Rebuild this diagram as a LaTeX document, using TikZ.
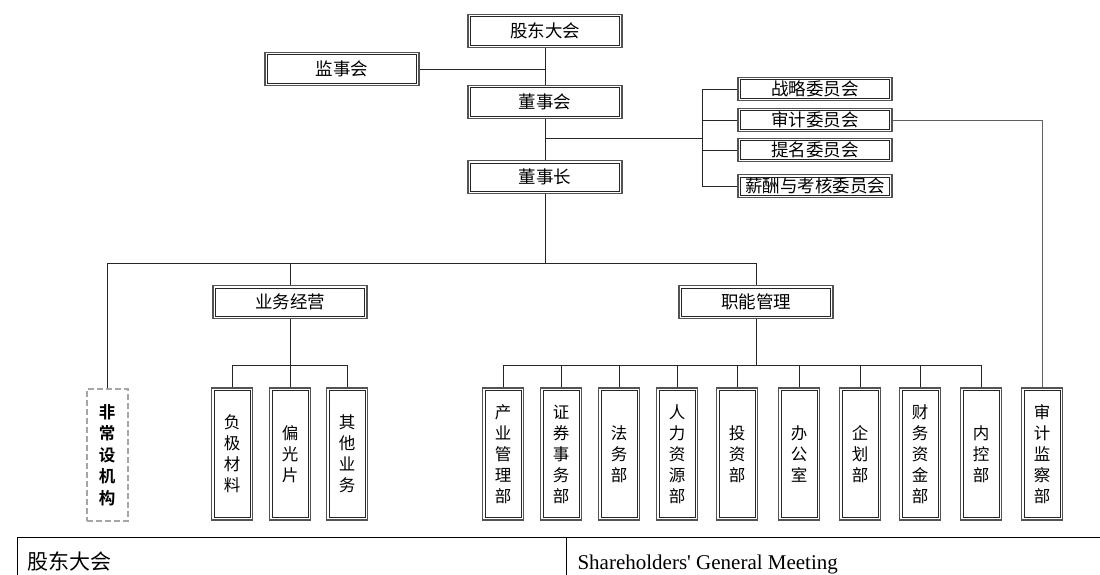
\documentclass[tikz,border=0pt]{standalone}
\usepackage{fontspec}
\setmainfont{Noto Sans CJK SC}[BoldFont={Noto Sans CJK SC Bold}]
\newfontfamily\enfont{Liberation Serif}
\usetikzlibrary{positioning}

\tikzset{
  unit/.style={draw=gray!65!black, line width=1.5pt, inner sep=0pt, fill=white,
               font=\fontsize{17.5}{21}\selectfont,
               path picture={\draw[black!85, line width=0.6pt]
                 ([shift={(2.3pt,-2.3pt)}]path picture bounding box.north west) rectangle
                 ([shift={(-2.3pt,2.3pt)}]path picture bounding box.south east);}},
  hunit/.style={unit, minimum width=154pt, minimum height=33pt},
  cunit/.style={unit, minimum width=154pt, minimum height=23pt},
  vunit/.style={unit, minimum width=41pt, minimum height=132pt, align=center,
               font=\fontsize{16.5}{21}\selectfont},
  tempunit/.style={draw=gray!70, line width=2pt, dash pattern=on 6pt off 3pt,
               inner sep=0pt, minimum width=41pt, minimum height=132pt, align=center,
               font=\fontsize{16.5}{21.5}\selectfont\bfseries},
  link/.style={draw=black!85, line width=0.7pt}
}

\begin{document}
\begin{tikzpicture}[x=1pt, y=-1pt]
    \useasboundingbox (0,0) rectangle (1100,575);

    % connectors first, boxes drawn over them
    \coordinate (k1) at (545,138);
    \coordinate (k2) at (702,138);
    \coordinate (b1) at (545,263);
    \coordinate (b2) at (290,365);
    \coordinate (b3) at (756,365);

    % top levels
    \node[hunit] (gd) at (545,31) {股东大会};
    \node[hunit] (js) at (342,69) {监事会};
    \node[hunit] (ds) at (545,102) {董事会};
    \node[hunit] (dz) at (545,177) {董事长};

    % committees
    \node[cunit] (zl) at (815,89) {战略委员会};
    \node[cunit] (sj) at (815,120) {审计委员会};
    \node[cunit] (tm) at (815,150) {提名委员会};
    \node[cunit] (xc) at (815,186) {薪酬与考核委员会};

    % second level
    \node[tempunit] (fc) at (107,455) {非\\常\\设\\机\\构};
    \node[hunit] (yw) at (290,302) {业务经营};
    \node[hunit] (zn) at (756,302) {职能管理};

    % business
    \node[vunit] (fj) at (232,454) {负\\极\\材\\料};
    \node[vunit] (pg) at (290,454) {偏\\光\\片};
    \node[vunit] (qt) at (347,454) {其\\他\\业\\务};

    % functions
    \node[vunit] (cy) at (503,454) {产\\业\\管\\理\\部};
    \node[vunit] (zq) at (561,454) {证\\券\\事\\务\\部};
    \node[vunit] (fw) at (619,454) {法\\务\\部};
    \node[vunit] (rl) at (677,454) {人\\力\\资\\源\\部};
    \node[vunit] (tz) at (737,454) {投\\资\\部};
    \node[vunit] (bg) at (799,454) {办\\公\\室};
    \node[vunit] (qh) at (860,454) {企\\划\\部};
    \node[vunit] (cw) at (920,454) {财\\务\\资\\金\\部};
    \node[vunit] (nk) at (981,454) {内\\控\\部};
    \node[vunit] (sc) at (1042,454) {审\\计\\监\\察\\部};

    \draw[link] (gd) -- (ds);
    \draw[link] (js.east) -- (js.east -| gd);
    \draw[link] (ds) -- (dz);
    \draw[link] (k1) -- (k2);
    \draw[link] (zl.west) -| (k2);
    \draw[link] (sj.west) -| (k2);
    \draw[link] (tm.west) -| (k2);
    \draw[link] (xc.west) -| (k2);
    \draw[link] (dz.south) -- (b1);
    \draw[link] (fc.north) |- (b1);
    \draw[link] (yw.north) |- (b1);
    \draw[link] (zn.north) |- (b1);
    \draw[link] (yw.south) -- (b2);
    \draw[link] (fj.north) |- (b2);
    \draw[link] (pg.north) |- (b2);
    \draw[link] (qt.north) |- (b2);
    \draw[link] (zn.south) -- (b3);
    \draw[link] (cy.north) |- (b3);
    \draw[link] (zq.north) |- (b3);
    \draw[link] (fw.north) |- (b3);
    \draw[link] (rl.north) |- (b3);
    \draw[link] (tz.north) |- (b3);
    \draw[link] (bg.north) |- (b3);
    \draw[link] (qh.north) |- (b3);
    \draw[link] (cw.north) |- (b3);
    \draw[link] (nk.north) |- (b3);
    \draw[link, draw=gray!75!black] (sj.east) -| (sc.north);

    % glossary row
    \draw[line width=1pt] (17,537) -- (1100,537);
    \draw[line width=0.7pt] (17,537) -- (17,575);
    \draw[line width=0.7pt] (566,537) -- (566,575);
    \node[anchor=base west, font=\fontsize{21}{24}\selectfont] (g1) at (24,569) {股东大会};
    \node[anchor=base west, font=\enfont\fontsize{21}{24}\selectfont] (g2) at (574,569) {Shareholders' General Meeting};
\end{tikzpicture}
\end{document}
